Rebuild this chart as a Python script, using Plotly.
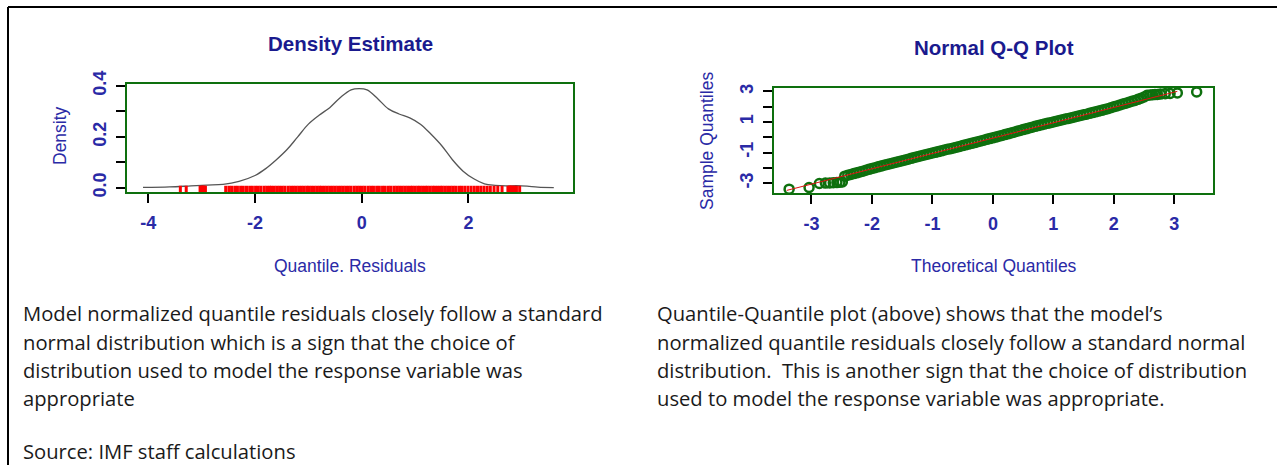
import plotly.graph_objects as go

W, H = 1277, 465

# ---------------- data ----------------
density_x = [-4.1, -3.6, -3.2, -2.9, -2.6, -2.3, -2.0, -1.8, -1.6, -1.4, -1.2, -1.0, -0.8, -0.6,
             -0.4, -0.2, -0.05, 0.1, 0.3, 0.5, 0.7, 0.9, 1.1, 1.3, 1.5, 1.7, 1.9, 2.1, 2.3, 2.5,
             2.7, 2.9, 3.1, 3.3, 3.6]
density_y = [0.001, 0.003, 0.007, 0.010, 0.013, 0.025, 0.048, 0.075, 0.11, 0.15, 0.20, 0.25, 0.285,
             0.315, 0.355, 0.385, 0.39, 0.385, 0.35, 0.31, 0.29, 0.275, 0.25, 0.21, 0.165, 0.11,
             0.065, 0.035, 0.015, 0.009, 0.007, 0.008, 0.006, 0.002, 0.0005]

theoretical_q = [
    -3.37, -3.04, -2.87, -2.77, -2.70, -2.64, -2.58, -2.53, -2.49,
    -2.45, -2.40, -2.35, -2.30, -2.25, -2.20, -2.15, -2.10, -2.05, -2.00,
    -1.95, -1.90, -1.85, -1.80, -1.75, -1.70, -1.65, -1.60, -1.55, -1.50,
    -1.45, -1.40, -1.35, -1.30, -1.25, -1.20, -1.15, -1.10, -1.05, -1.00,
    -0.95, -0.90, -0.85, -0.80, -0.75, -0.70, -0.65, -0.60, -0.55, -0.50,
    -0.45, -0.40, -0.35, -0.30, -0.25, -0.20, -0.15, -0.10, -0.05, 0.00,
    0.05, 0.10, 0.15, 0.20, 0.25, 0.30, 0.35, 0.40, 0.45, 0.50,
    0.55, 0.60, 0.65, 0.70, 0.75, 0.80, 0.85, 0.90, 0.95, 1.00,
    1.05, 1.10, 1.15, 1.20, 1.25, 1.30, 1.35, 1.40, 1.45, 1.50,
    1.55, 1.60, 1.65, 1.70, 1.75, 1.80, 1.85, 1.90, 1.95, 2.00,
    2.05, 2.10, 2.15, 2.20, 2.25, 2.30, 2.35, 2.40, 2.45, 2.50,
    2.55, 2.60, 2.64, 2.68, 2.72, 2.77, 2.85, 2.93, 3.05, 3.37]
residuals = [
    -3.40, -3.29, -3.03, -3.00, -2.99, -2.98, -2.97, -2.95, -2.93,
    -2.55, -2.49, -2.44, -2.38, -2.33, -2.27, -2.22, -2.16, -2.10, -2.05,
    -1.99, -1.94, -1.89, -1.83, -1.78, -1.73, -1.69, -1.64, -1.59, -1.54,
    -1.49, -1.44, -1.38, -1.33, -1.28, -1.23, -1.18, -1.13, -1.08, -1.03,
    -0.99, -0.94, -0.89, -0.84, -0.79, -0.75, -0.70, -0.65, -0.60, -0.55,
    -0.50, -0.45, -0.40, -0.35, -0.30, -0.25, -0.20, -0.14, -0.09, -0.04,
    0.01, 0.06, 0.12, 0.17, 0.22, 0.28, 0.33, 0.39, 0.44, 0.50,
    0.55, 0.61, 0.66, 0.71, 0.76, 0.81, 0.86, 0.91, 0.95, 1.00,
    1.05, 1.09, 1.14, 1.19, 1.23, 1.28, 1.33, 1.37, 1.42, 1.47,
    1.51, 1.56, 1.61, 1.66, 1.71, 1.76, 1.82, 1.87, 1.93, 1.99,
    2.05, 2.11, 2.17, 2.23, 2.29, 2.35, 2.41, 2.48, 2.55, 2.63,
    2.74, 2.77, 2.78, 2.79, 2.80, 2.82, 2.85, 2.86, 2.90, 2.96]
qqline_x = [-3.41, 3.05]
qqline_y = [-3.48, 3.00]

density_xticks = [-4, -2, 0, 2]
density_yticks = [0.0, 0.1, 0.2, 0.3, 0.4]
density_yticklabels = ["0.0", "", "0.2", "", "0.4"]
qq_ticks = [-3, -2, -1, 0, 1, 2, 3]
qq_xticklabels = ["-3", "-2", "-1", "0", "1", "2", "3"]
qq_yticklabels = ["-3", "", "-1", "", "1", "", "3"]

left_text = ["Model normalized quantile residuals closely follow a standard",
             "normal distribution which is a sign that the choice of",
             "distribution used to model the response variable was",
             "appropriate"]
right_text = ["Quantile-Quantile plot (above) shows that the model\u2019s",
              "normalized quantile residuals closely follow a standard normal",
              "distribution.  This is another sign that the choice of distribution",
              "used to model the response variable was appropriate."]
source_text = "Source: IMF staff calculations"

# ---------------- styling ----------------
GREEN = "#0e700e"
BLUE = "#2a2aa6"
NAVY = "#1a1a8e"
FONT = "Liberation Sans"
TXT_FONT = "Open Sans"
TXT_SIZE = 20.2


def px_x(p):
    return p / W


def px_y(p):
    return 1 - p / H


fig = go.Figure()

fig.add_trace(go.Scatter(x=density_x, y=density_y, mode="lines",
                         line=dict(color="#555555", width=1.3, shape="spline"),
                         xaxis="x", yaxis="y", showlegend=False, hoverinfo="skip"))
fig.add_trace(go.Scatter(x=residuals, y=[-0.009] * len(residuals), mode="markers",
                         marker=dict(symbol="line-ns", size=6, line=dict(color="#ff0000", width=3)),
                         xaxis="x", yaxis="y", showlegend=False, hoverinfo="skip"))

fig.add_trace(go.Scatter(x=theoretical_q, y=residuals, mode="markers",
                         marker=dict(symbol="circle-open", size=9, color=GREEN,
                                     line=dict(color=GREEN, width=2.5)),
                         xaxis="x2", yaxis="y2", showlegend=False, hoverinfo="skip"))
fig.add_trace(go.Scatter(x=qqline_x, y=qqline_y, mode="lines",
                         line=dict(color="#e01010", width=1),
                         xaxis="x2", yaxis="y2", showlegend=False, hoverinfo="skip"))

axis_common = dict(showgrid=False, zeroline=False, showline=True, mirror=True, automargin=False,
                   linecolor=GREEN, linewidth=2, ticks="outside", ticklen=9, tickwidth=2,
                   tickcolor="black", tickmode="array",
                   tickfont=dict(family=FONT, size=18, color=BLUE, weight="bold"))

fig.update_layout(
    width=W, height=H, autosize=False,
    margin=dict(l=0, r=0, t=0, b=0, pad=0, autoexpand=False),
    paper_bgcolor="white", plot_bgcolor="white", showlegend=False,
    xaxis=dict(domain=[px_x(127), px_x(573)], range=[-4.40, 3.96], anchor="y",
               tickvals=density_xticks, ticktext=[str(v) for v in density_xticks],
               ticklabelstandoff=4, **axis_common),
    yaxis=dict(domain=[px_y(192), px_y(84)], range=[-0.017, 0.408], anchor="x",
               tickvals=density_yticks, ticktext=density_yticklabels, tickangle=-90,
               ticklabelstandoff=3, **axis_common),
    xaxis2=dict(domain=[px_x(774), px_x(1213)], range=[-3.62, 3.64], anchor="y2",
                tickvals=qq_ticks, ticktext=qq_xticklabels, ticklabelstandoff=4, **axis_common),
    yaxis2=dict(domain=[px_y(193), px_y(88)], range=[-3.65, 3.22], anchor="x2",
                tickvals=qq_ticks, ticktext=qq_yticklabels, tickangle=-90,
                ticklabelstandoff=3, **axis_common),
)

ann = []


def add_ann(text, x, y, size, color, bold=False, angle=0, xanchor="center", family=FONT):
    ann.append(dict(text=text, x=x, y=y, xref="paper", yref="paper", showarrow=False,
                    xanchor=xanchor, yanchor="middle", textangle=angle,
                    font=dict(family=family, size=size, color=color,
                              weight="bold" if bold else "normal")))


add_ann("Density Estimate", px_x(350), px_y(43), 20.5, NAVY, bold=True)
add_ann("Quantile. Residuals", px_x(350), px_y(266), 17.5, BLUE)
add_ann("Density", px_x(60), px_y(136), 17.5, BLUE, angle=-90)
add_ann("Normal Q-Q Plot", px_x(994), px_y(47), 20.5, NAVY, bold=True)
add_ann("Theoretical Quantiles", px_x(994), px_y(266), 17.5, BLUE)
add_ann("Sample Quantiles", px_x(707), px_y(141), 17.5, BLUE, angle=-90)

line_ys = [313, 342, 370, 398]
for t, yy in zip(left_text, line_ys):
    add_ann(t, px_x(21), px_y(yy), TXT_SIZE, "#1a1a1a", xanchor="left", family=TXT_FONT)
for t, yy in zip(right_text, line_ys):
    add_ann(t, px_x(655), px_y(yy), TXT_SIZE, "#1a1a1a", xanchor="left", family=TXT_FONT)
add_ann(source_text, px_x(21), px_y(451), TXT_SIZE, "#1a1a1a", xanchor="left", family=TXT_FONT)

fig.update_layout(annotations=ann)

fig.update_layout(shapes=[
    dict(type="line", xref="paper", yref="paper", x0=px_x(8), x1=1, y0=px_y(7), y1=px_y(7),
         line=dict(color="black", width=2)),
    dict(type="line", xref="paper", yref="paper", x0=px_x(8), x1=px_x(8), y0=px_y(7), y1=0,
         line=dict(color="black", width=2)),
])

post = ("document.body.style.margin='0';document.body.style.padding='0';"
        "document.body.style.overflow='hidden';"
        "var d=document.getElementById('{plot_id}');"
        "d.style.position='absolute';d.style.top='0px';d.style.left='0px';")

fig.write_html("out.html", post_script=post, config={"displayModeBar": False})
